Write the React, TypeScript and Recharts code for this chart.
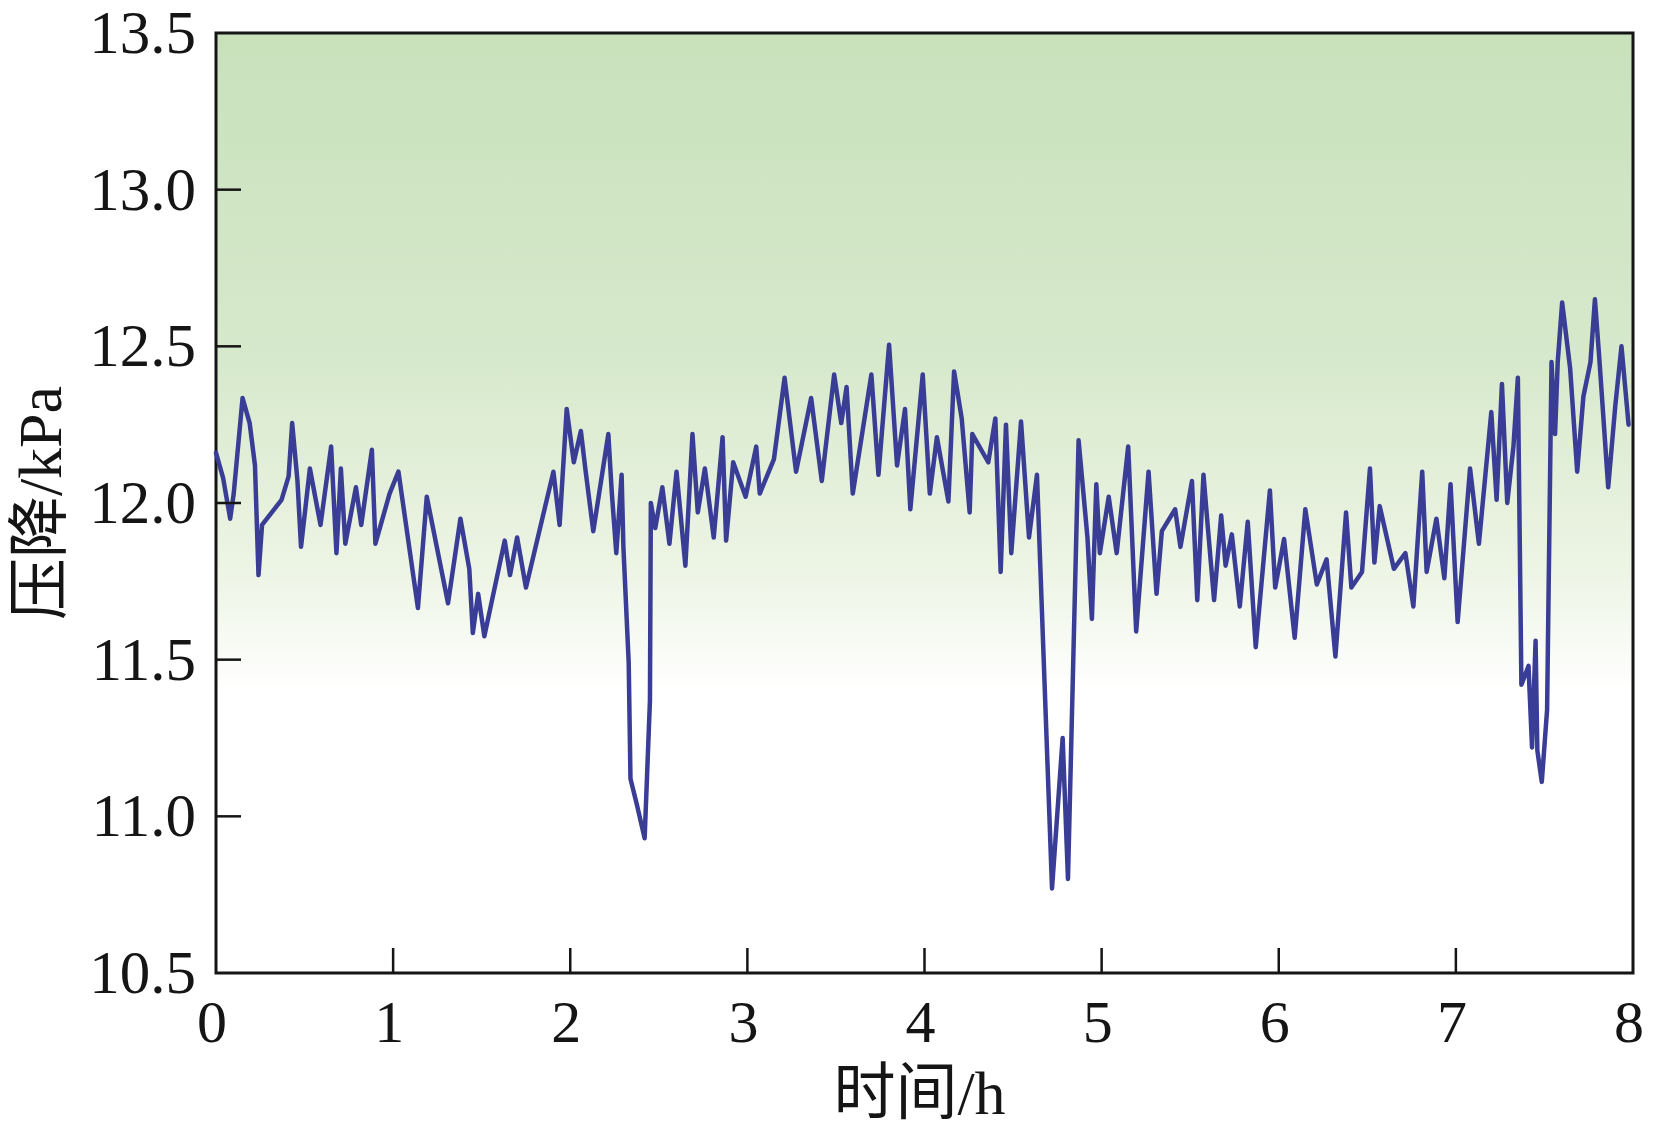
import {
  LineChart,
  Line,
  XAxis,
  YAxis,
  CartesianGrid,
  ReferenceArea,
} from "recharts";

// 时间 (h) and 压降 (kPa)
const hours = [
  0.0, 0.04, 0.08, 0.1, 0.15, 0.19, 0.22, 0.24, 0.26, 0.37, 0.41, 0.43, 0.46, 0.48,
  0.53, 0.56, 0.59, 0.65, 0.68, 0.705, 0.73, 0.79, 0.82, 0.88, 0.9, 0.98, 1.03,
  1.14, 1.19, 1.31, 1.38, 1.43, 1.45, 1.48, 1.515, 1.63, 1.66, 1.7, 1.75, 1.905,
  1.94, 1.98, 2.02, 2.06, 2.085, 2.13, 2.215, 2.235, 2.26, 2.29, 2.3, 2.33, 2.34,
  2.375, 2.42, 2.45, 2.455, 2.48, 2.52, 2.56, 2.6, 2.65, 2.69, 2.72, 2.76, 2.81,
  2.86, 2.88, 2.92, 2.99, 3.05, 3.07, 3.15, 3.21, 3.275, 3.36, 3.42, 3.49, 3.53,
  3.56, 3.595, 3.7, 3.74, 3.8, 3.845, 3.89, 3.92, 3.99, 4.03, 4.07, 4.135, 4.167,
  4.21, 4.255, 4.27, 4.36, 4.4, 4.43, 4.46, 4.49, 4.545, 4.59, 4.635, 4.72, 4.78,
  4.81, 4.87, 4.92, 4.945, 4.97, 4.99, 5.04, 5.085, 5.15, 5.195, 5.265, 5.31, 5.34,
  5.415, 5.445, 5.51, 5.54, 5.575, 5.6, 5.635, 5.675, 5.7, 5.735, 5.78, 5.825, 5.87,
  5.95, 5.98, 6.03, 6.09, 6.15, 6.215, 6.27, 6.32, 6.38, 6.41, 6.47, 6.515, 6.54,
  6.57, 6.65, 6.715, 6.76, 6.81, 6.835, 6.89, 6.935, 6.97, 7.01, 7.08, 7.13, 7.2,
  7.23, 7.26, 7.29, 7.325, 7.35, 7.37, 7.41, 7.43, 7.45, 7.46, 7.485, 7.515, 7.54,
  7.56, 7.575, 7.6, 7.645, 7.685, 7.72, 7.76, 7.785, 7.81, 7.86, 7.9, 7.935, 7.975,
];

const pressure = [
  12.16, 12.08, 11.95, 12.03, 12.335, 12.255, 12.12, 11.77, 11.93, 12.01, 12.085,
  12.255, 12.07, 11.86, 12.11, 12.02, 11.93, 12.18, 11.84, 12.11, 11.87, 12.05,
  11.93, 12.17, 11.87, 12.03, 12.1, 11.665, 12.02, 11.68, 11.95, 11.79, 11.585,
  11.71, 11.575, 11.88, 11.77, 11.89, 11.73, 12.1, 11.93, 12.3, 12.13, 12.23,
  12.11, 11.91, 12.22, 12.03, 11.84, 12.09, 11.86, 11.49, 11.12, 11.04, 10.93,
  11.37, 12.0, 11.92, 12.05, 11.87, 12.1, 11.8, 12.22, 11.97, 12.11, 11.89, 12.21,
  11.88, 12.13, 12.02, 12.18, 12.03, 12.14, 12.4, 12.1, 12.335, 12.07, 12.41,
  12.255, 12.37, 12.03, 12.41, 12.09, 12.505, 12.12, 12.3, 11.98, 12.41, 12.03,
  12.21, 12.005, 12.42, 12.27, 11.97, 12.22, 12.13, 12.27, 11.78, 12.25, 11.84,
  12.26, 11.89, 12.09, 10.77, 11.25, 10.8, 12.2, 11.89, 11.63, 12.06, 11.84, 12.02,
  11.84, 12.18, 11.59, 12.1, 11.71, 11.91, 11.98, 11.86, 12.07, 11.69, 12.09,
  11.92, 11.69, 11.96, 11.8, 11.9, 11.67, 11.94, 11.54, 12.04, 11.73, 11.885,
  11.57, 11.98, 11.74, 11.82, 11.51, 11.97, 11.73, 11.78, 12.11, 11.81, 11.99,
  11.79, 11.84, 11.67, 12.1, 11.78, 11.95, 11.76, 12.06, 11.62, 12.11, 11.87,
  12.29, 12.01, 12.38, 12.0, 12.18, 12.4, 11.42, 11.48, 11.22, 11.56, 11.21, 11.11,
  11.34, 12.45, 12.22, 12.45, 12.64, 12.43, 12.1, 12.34, 12.45, 12.65, 12.46, 12.05,
  12.31, 12.5, 12.25,
];

const xTicks = [0, 1, 2, 3, 4, 5, 6, 7, 8];
const yTicks = [10.5, 11.0, 11.5, 12.0, 12.5, 13.0, 13.5];

const data = hours.map((t, i) => ({ t, p: pressure[i] }));

const SERIF = "'Liberation Serif', 'Times New Roman', serif";
const TITLE_FONT = "'Liberation Serif', 'Noto Sans CJK SC', serif";
const INK = "#151515";

function XTick({ x, y, payload }: any) {
  const v = payload.value;
  return (
    <g>
      {v > 0 && v < 8 && (
        <line x1={x} x2={x} y1={y} y2={y - 25} stroke={INK} strokeWidth={2.5} />
      )}
      <text x={x - 4} y={y + 69} textAnchor="middle" fontFamily={SERIF} fontSize={60} fill={INK}>
        {v}
      </text>
    </g>
  );
}

function YTick({ x, y, payload }: any) {
  const v = payload.value;
  return (
    <g>
      {v > 10.5 && v < 13.5 && (
        <line x1={x} x2={x + 25} y1={y} y2={y} stroke={INK} strokeWidth={2.5} />
      )}
      <text x={x - 20} y={y + 20} textAnchor="end" fontFamily={SERIF} fontSize={61} fill={INK}>
        {v.toFixed(1)}
      </text>
    </g>
  );
}

export default function App() {
  return (
    <div style={{ width: 1657, height: 1132, background: "#fff" }}>
      <style>{"body{margin:0}"}</style>
      <LineChart
        width={1657}
        height={1132}
        data={data}
        margin={{ top: 33, right: 24, left: 0, bottom: 0 }}
      >
        <defs>
          <linearGradient id="plotBg" x1="0" y1="0" x2="0" y2="1">
            <stop offset="0%" stopColor="#c8e1bb" />
            <stop offset="35%" stopColor="#d7e9cc" />
            <stop offset="58%" stopColor="#eef5e6" />
            <stop offset="70%" stopColor="#ffffff" />
            <stop offset="100%" stopColor="#ffffff" />
          </linearGradient>
        </defs>
        <CartesianGrid horizontal={false} vertical={false} fill="url(#plotBg)" />
        <XAxis
          dataKey="t"
          type="number"
          domain={[0, 8]}
          ticks={xTicks}
          height={159}
          axisLine={false}
          tickLine={false}
          tickSize={0}
          tickMargin={0}
          interval={0}
          tick={<XTick />}
          label={{
            content: ({ viewBox }: any) => (
              <text
                x={viewBox.x + viewBox.width / 2 - 5}
                y={viewBox.y + 141}
                textAnchor="middle"
                fontFamily={TITLE_FONT}
                fontSize={62}
                fill={INK}
              >
                时间/h
              </text>
            ),
          }}
        />
        <YAxis
          type="number"
          domain={[10.5, 13.5]}
          ticks={yTicks}
          width={216}
          axisLine={false}
          tickLine={false}
          tickSize={0}
          tickMargin={0}
          interval={0}
          tick={<YTick />}
          label={{
            content: ({ viewBox }: any) => {
              const cx = 40;
              const cy = viewBox.y + viewBox.height / 2;
              return (
                <text
                  x={cx}
                  y={cy}
                  transform={`rotate(-90 ${cx} ${cy})`}
                  textAnchor="middle"
                  dominantBaseline="central"
                  fontFamily={TITLE_FONT}
                  fontSize={62}
                  fill={INK}
                >
                  压降/kPa
                </text>
              );
            },
          }}
        />
        <ReferenceArea
          x1={0}
          x2={8}
          y1={10.5}
          y2={13.5}
          fill="none"
          fillOpacity={0}
          stroke={INK}
          strokeWidth={3}
          strokeOpacity={1}
        />
        <Line
          type="linear"
          dataKey="p"
          stroke="#3a3d96"
          strokeWidth={4.5}
          strokeLinejoin="round"
          strokeLinecap="round"
          dot={false}
          isAnimationActive={false}
        />
      </LineChart>
    </div>
  );
}
